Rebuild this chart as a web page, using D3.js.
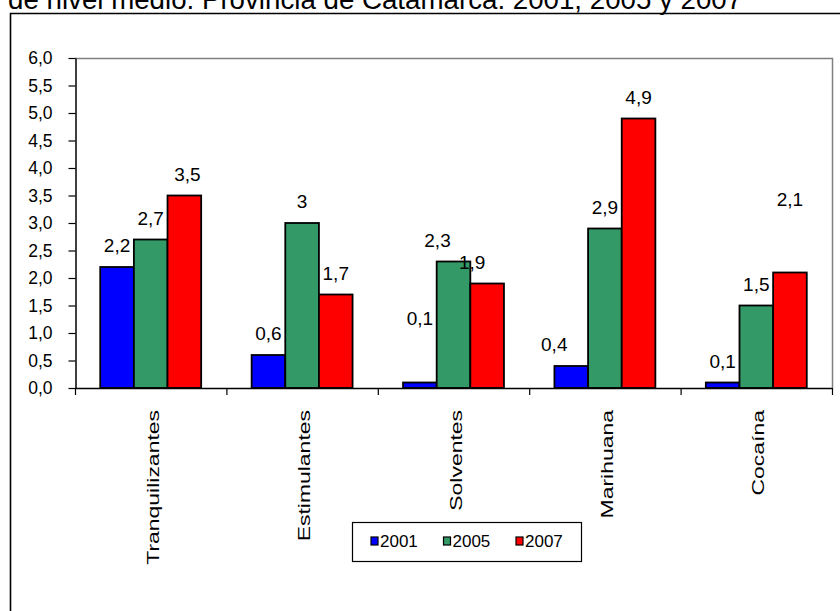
<!DOCTYPE html>
<html>
<head>
<meta charset="utf-8">
<script src="https://cdn.jsdelivr.net/npm/d3@7"></script>
<style>
  body { margin: 0; background: #fff; }
  svg { display: block; font-family: "Liberation Sans", Arial, sans-serif; }
</style>
</head>
<body>
<div id="chart"></div>
<script>
// chart data
var categories = ["Tranquilizantes", "Estimulantes", "Solventes", "Marihuana", "Cocaína"];
var years = ["2001", "2005", "2007"];
var values2001 = [2.2, 0.6, 0.1, 0.4, 0.1];
var values2005 = [2.7, 3, 2.3, 2.9, 1.5];
var values2007 = [3.5, 1.7, 1.9, 4.9, 2.1];
var yTicks = [0, 0.5, 1, 1.5, 2, 2.5, 3, 3.5, 4, 4.5, 5, 5.5, 6];
var titleText = "de nivel medio. Provincia de Catamarca. 2001, 2005 y 2007";

var colors = { "2001": "#0000ff", "2005": "#339966", "2007": "#ff0000" };
var seriesValues = { "2001": values2001, "2005": values2005, "2007": values2007 };

// labels that were moved by hand in the original (dx, dy in px)
var labelShift = {
  "2001|Solventes": [0, -43],
  "2005|Solventes": [-16, 0],
  "2007|Solventes": [-15, 0],
  "2001|Marihuana": [-17, 0],
  "2007|Cocaína": [0, -52],
  "2007|Tranquilizantes": [3, 0]
};

var svgWidth = 840;
var svgHeight = 611;
var plot = { left: 75, right: 832, top: 58, bottom: 388 };

var svg = d3.select("#chart")
  .append("svg")
  .attr("width", svgWidth)
  .attr("height", svgHeight);

// title (cut off at the top)
svg.append("text")
  .attr("x", 8)
  .attr("y", 9)
  .style("font-size", "27.7px")
  .style("fill", "#000")
  .text(titleText);

// outer frame
svg.append("path")
  .attr("d", `M10.5,${svgHeight + 2} V13.5 H${svgWidth + 2}`)
  .attr("fill", "none")
  .attr("stroke", "#000")
  .attr("stroke-width", 1.6);

// scales
var x0 = d3.scaleBand()
  .domain(categories)
  .range([plot.left, plot.right]);

var x1 = d3.scaleBand()
  .domain(years)
  .range([0, x0.bandwidth()])
  .paddingOuter(0.75);

var y = d3.scaleLinear()
  .domain([0, 6])
  .range([plot.bottom, plot.top]);

// plot area border (gray top / right)
svg.append("path")
  .attr("d", `M${plot.left},${plot.top + 0.5} H${plot.right + 0.5} V${plot.bottom}`)
  .attr("fill", "none")
  .attr("stroke", "#808080")
  .attr("stroke-width", 1.5);

// bars
var rows = [];
years.forEach(function(yr) {
  categories.forEach(function(c, i) {
    rows.push({ year: yr, cat: c, value: seriesValues[yr][i] });
  });
});

svg.append("g")
  .selectAll("rect")
  .data(rows)
  .enter()
  .append("rect")
  .attr("x", d => x0(d.cat) + x1(d.year))
  .attr("y", d => y(d.value))
  .attr("width", x1.bandwidth())
  .attr("height", d => y(0) - y(d.value))
  .attr("fill", d => colors[d.year])
  .attr("stroke", "#000")
  .attr("stroke-width", 1.8);

// value labels
svg.append("g")
  .selectAll("text")
  .data(rows)
  .enter()
  .append("text")
  .attr("x", d => x0(d.cat) + x1(d.year) + x1.bandwidth() / 2 + (labelShift[d.year + "|" + d.cat] || [0, 0])[0])
  .attr("y", d => y(d.value) - 15 + (labelShift[d.year + "|" + d.cat] || [0, 0])[1])
  .style("font-size", "19px")
  .style("text-anchor", "middle")
  .style("fill", "#000")
  .text(d => String(d.value).replace(".", ","));

// y axis
var leftAxis = d3.axisLeft(y)
  .tickValues(yTicks)
  .tickSize(7)
  .tickSizeOuter(0)
  .tickPadding(16)
  .tickFormat(d => d3.format(".1f")(d).replace(".", ","));

var yAxis = svg.append("g")
  .attr("transform", `translate(${plot.left + 0.5},0)`)
  .call(leftAxis);
yAxis.select(".domain").attr("stroke", "#000").attr("stroke-width", 1.5);
yAxis.selectAll(".tick line").attr("stroke", "#000").attr("stroke-width", 1.2);
yAxis.selectAll(".tick text")
  .style("font-size", "17.5px")
  .style("font-family", "Liberation Sans, Arial, sans-serif")
  .attr("fill", "#000");

// x axis with ticks at category boundaries
var xAxisG = svg.append("g");
xAxisG.append("line")
  .attr("x1", plot.left)
  .attr("x2", plot.right + 0.5)
  .attr("y1", plot.bottom + 0.5)
  .attr("y2", plot.bottom + 0.5)
  .attr("stroke", "#000")
  .attr("stroke-width", 1.5);

var boundaries = categories.map(c => x0(c)).concat([plot.right]);
xAxisG.selectAll("line.tk")
  .data(boundaries)
  .enter()
  .append("line")
  .attr("class", "tk")
  .attr("x1", d => d + 0.5)
  .attr("x2", d => d + 0.5)
  .attr("y1", plot.bottom)
  .attr("y2", plot.bottom + 7)
  .attr("stroke", "#000")
  .attr("stroke-width", 1.2);

// rotated category labels
xAxisG.selectAll("text")
  .data(categories)
  .enter()
  .append("text")
  .attr("transform", d => `translate(${x0(d) + x0.bandwidth() / 2 + 2},410) rotate(-90) scale(1.35,1)`)
  .attr("dy", "0.36em")
  .style("font-size", "17px")
  .style("text-anchor", "end")
  .style("fill", "#000")
  .text(d => d);

// legend
var legend = svg.append("g");
legend.append("rect")
  .attr("x", 352.5)
  .attr("y", 522.5)
  .attr("width", 229)
  .attr("height", 39)
  .attr("fill", "#fff")
  .attr("stroke", "#000")
  .attr("stroke-width", 1.2);

var legendX = d3.scalePoint()
  .domain(years)
  .range([371, 516]);

var items = legend.selectAll("g.item")
  .data(years)
  .enter()
  .append("g")
  .attr("class", "item")
  .attr("transform", d => `translate(${legendX(d)},537)`);

items.append("rect")
  .attr("width", 7)
  .attr("height", 8)
  .attr("fill", d => colors[d])
  .attr("stroke", "#000")
  .attr("stroke-width", 1.2);

items.append("text")
  .attr("x", 9)
  .attr("y", 10)
  .style("font-size", "17px")
  .style("font-family", "Liberation Sans Narrow, Arial Narrow, sans-serif")
  .style("fill", "#000")
  .text(d => d);
</script>
</body>
</html>
